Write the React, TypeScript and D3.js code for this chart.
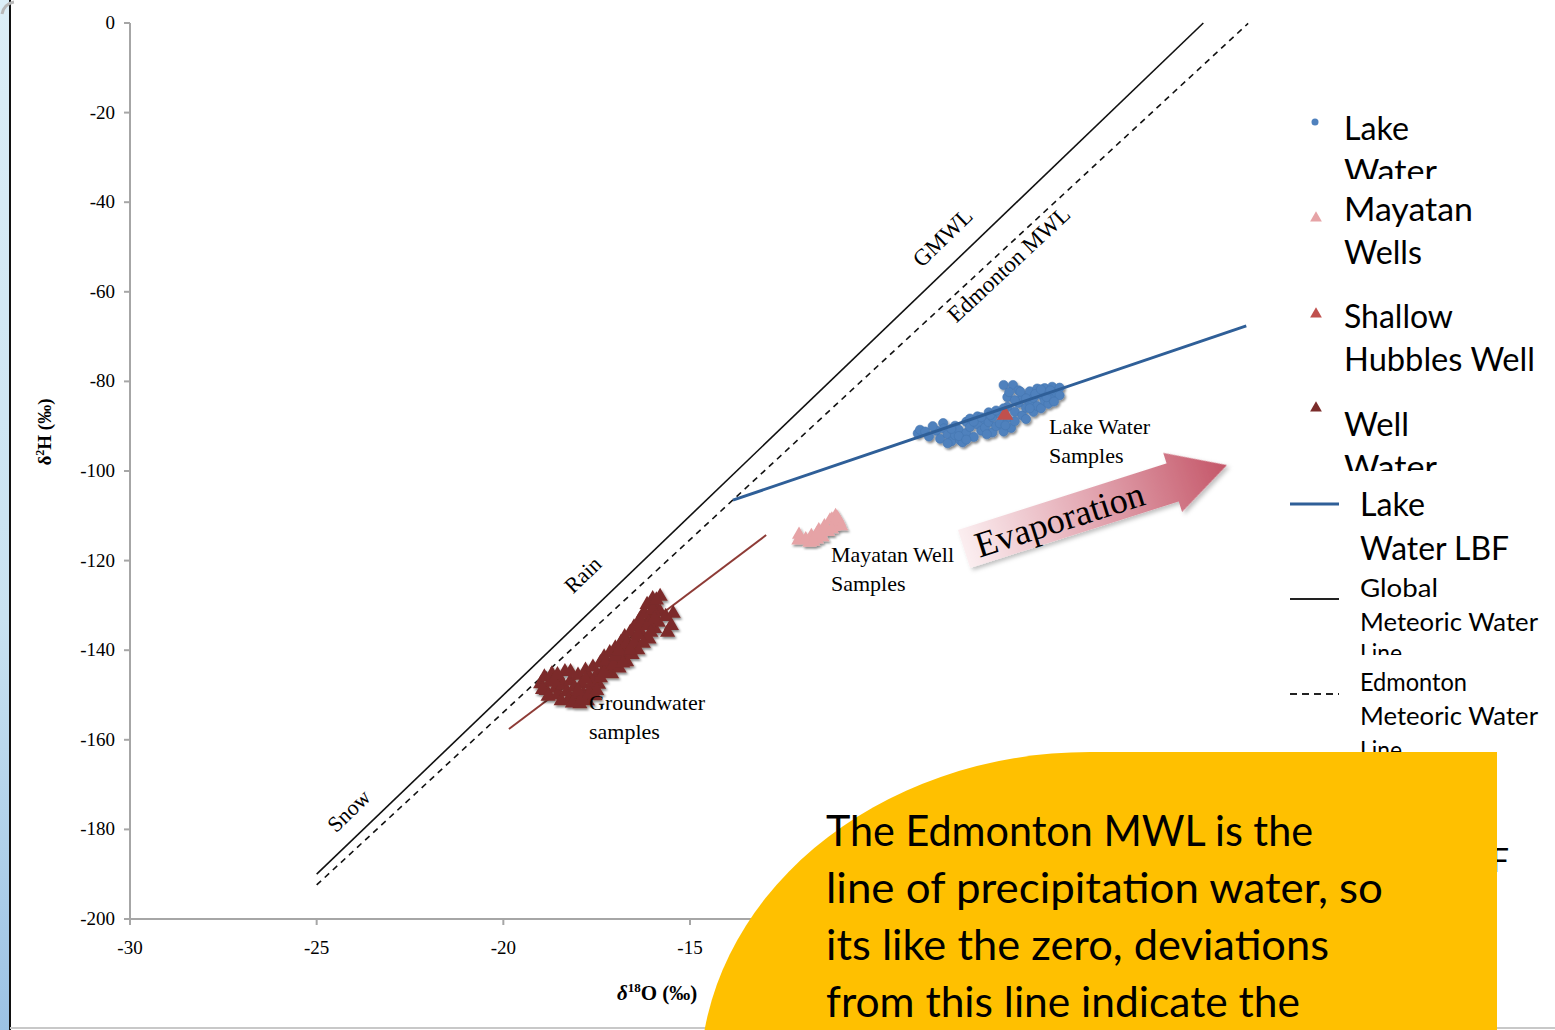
import React from "react";
import * as d3 from "d3";

// ---------- data ----------
const xTicks = [-30, -25, -20, -15, -10, -5, 0];
const xTickLabels = [-30, -25, -20, -15];
const yTicks = [0, -20, -40, -60, -80, -100, -120, -140, -160, -180, -200];

const lakeX = [-8.9, -8.84, -8.7, -8.6, -8.4, -8.3, -8.22, -8.2, -8.1, -8.0, -7.9, -7.9, -7.8, -7.77, -7.7, -7.6, -7.6, -7.5, -7.5, -7.4, -7.3, -7.3, -7.2, -7.1, -7.1, -7.0, -7.0, -6.9, -6.9, -6.8, -6.7, -6.7, -6.6, -6.6, -6.5, -6.5, -6.4, -6.35, -6.3, -6.3, -6.2, -6.2, -6.1, -6.1, -6.0, -6.0, -5.9, -5.9, -5.8, -5.8, -5.7, -5.7, -5.6, -5.6, -5.5, -5.5, -5.4, -5.4, -5.3, -5.3, -5.2, -5.1, -5.1,
  -8.5, -8.0, -7.8, -7.4, -7.2, -6.95, -6.8, -6.6, -6.5, -6.45, -6.3, -6.15, -6.0, -5.9, -5.75, -5.6, -5.45, -5.35, -5.25, -6.55, -7.05, -7.6, -8.1];
const lakeY = [-91.6, -90.8, -91.2, -92.3, -91.0, -92.8, -89.3, -90.5, -91.8, -93.4, -89.9, -92.0, -90.8, -93.1, -93.6, -89.0, -91.5, -88.3, -90.2, -92.4, -87.8, -89.6, -91.0, -88.6, -90.3, -86.9, -89.1, -91.4, -88.0, -90.0, -87.2, -89.4, -91.2, -80.8, -88.2, -85.7, -90.4, -80.8, -86.8, -88.9, -84.8, -82.0, -87.6, -83.3, -85.9, -88.4, -82.2, -84.6, -86.8, -83.7, -81.6, -85.5, -83.0, -86.0, -81.5, -84.3, -82.6, -85.0, -81.2, -83.8, -82.4, -81.4, -83.1,
  -90.0, -90.6, -92.2, -89.0, -88.0, -87.5, -86.5, -86.0, -83.5, -82.4, -84.2, -82.3, -83.8, -86.0, -82.8, -81.8, -83.5, -82.0, -84.5, -89.8, -91.8, -93.0, -93.8];

const mayX = [-12.1, -12.08, -11.8, -11.75, -11.6, -11.55, -11.45, -11.4, -11.3, -11.25, -11.15, -11.1, -11.0, -10.95, -11.9, -11.7, -11.5, -11.35, -11.2, -11.05, -11.2, -11.6];
const mayY = [-115.5, -114.2, -116.0, -114.5, -115.3, -113.2, -114.8, -112.3, -113.6, -111.0, -112.5, -110.0, -111.3, -112.3, -115.2, -115.8, -113.9, -112.8, -110.8, -110.5, -113.0, -114.0];

const hubX = [-6.56];
const hubY = [-87.5];

const gwX = [-19.0, -18.9, -18.85, -18.75, -18.7, -18.6, -18.55, -18.5, -18.4, -18.35, -18.3, -18.25, -18.2, -18.1, -18.05, -18.0, -17.95, -17.9, -17.85, -17.8, -17.75, -17.7, -17.65, -17.6, -17.55, -17.5, -17.45,
  -17.4, -17.35, -17.3, -17.2, -17.15, -17.1, -17.0, -16.95, -16.9, -16.85, -16.8, -16.75, -16.7, -16.65, -16.6, -16.55, -16.5, -16.45, -16.4, -16.35,
  -16.3, -16.25, -16.2, -16.15, -16.1, -16.05, -16.0, -15.95, -15.9, -15.85, -15.8, -15.8, -15.65, -15.5, -15.45, -15.6,
  -18.95, -18.8, -18.65, -18.45, -18.15, -17.9, -17.7, -17.6, -17.5, -17.4, -17.3, -17.25, -17.05, -17.0, -16.9, -16.8, -16.7, -16.6, -16.5, -16.4, -16.3, -16.25, -16.2, -16.1, -16.0, -15.95, -15.9, -16.05, -18.2, -18.55, -17.8, -18.0];
const gwY = [-147.5, -146.0, -149.0, -147.2, -145.3, -148.5, -150.0, -146.4, -147.8, -144.8, -149.3, -151.0, -146.9, -148.3, -150.5, -145.6, -152.0, -147.5, -149.8, -144.5, -151.3, -146.3, -148.6, -143.8, -150.2, -145.5, -147.6,
  -142.8, -144.9, -141.5, -143.7, -140.6, -145.3, -139.5, -142.0, -144.0, -138.3, -140.8, -137.0, -142.6, -139.2, -136.0, -141.0, -134.8, -137.8, -139.9, -133.2,
  -136.3, -131.8, -134.5, -129.8, -137.5, -132.6, -128.5, -135.2, -130.6, -133.8, -128.0, -131.5, -132.5, -134.5, -131.8, -136.0,
  -148.8, -150.3, -146.8, -151.3, -151.8, -151.0, -149.7, -147.2, -149.0, -146.2, -145.0, -142.5, -143.2, -141.3, -140.2, -142.9, -138.6, -140.0, -138.5, -136.5, -134.0, -138.5, -132.0, -134.0, -131.0, -133.0, -128.8, -136.0, -144.8, -145.5, -146.5, -149.0];

const gmwlX = [-25, -1.25];
const gmwlY = [-190, 0];
const emwlX = [-25, -0.05];
const emwlY = [-192.4, -0.1];
const lakeLbfX = [-13.85, -0.1];
const lakeLbfY = [-106.5, -67.6];
const gwLbfX = [-19.85, -12.96];
const gwLbfY = [-157.6, -114.3];

const calloutLines = [
  "The Edmonton MWL is the",
  "line of precipitation water, so",
  "its like the zero, deviations",
  "from this line indicate the",
];

// ---------- layout ----------
const W = 1555;
const H = 1030;
const x = d3.scaleLinear().domain([-30, 0]).range([130, 1250]);
const y = d3.scaleLinear().domain([-200, 0]).range([919, 23]);
const AX = "#a6a6a6";
const SERIF = "'Liberation Serif', 'Times New Roman', serif";
const SANS = "Lato, 'Noto Sans', sans-serif";

const zip = (xs: number[], ys: number[]) => xs.map((v, i) => [v, ys[i]] as [number, number]);
const lineGen = d3.line<[number, number]>().x((d) => x(d[0])).y((d) => y(d[1]));
const tri = (size: number) => d3.symbol().type(d3.symbolTriangle).size(size)() as string;

export default function App() {
  const legend1 = [
    { sym: "circle", color: "#4f81bd", my: 122, lines: ["Lake", "Water"], bl: [140, 183], widths: [65, 93], clip: 179, fs: 32 },
    { sym: "tri", color: "#e6a3a6", my: 218, lines: ["Mayatan", "Wells"], bl: [221, 264], widths: [129, 78], clip: 290, fs: 32 },
    { sym: "tri", color: "#c0504d", my: 314, lines: ["Shallow", "Hubbles Well"], bl: [328, 371], widths: [109, 191], clip: 390, fs: 32 },
    { sym: "tri", color: "#7b2c2a", my: 408, lines: ["Well", "Water"], bl: [436, 479], widths: [65, 93], clip: 471, fs: 32 },
  ];
  const legend2 = [
    { kind: "solid", color: "#2f5f98", sw: 3, ly: 504, lines: ["Lake", "Water LBF"], bl: [516, 560], widths: [65, 149], clip: 575, fs: 32 },
    { kind: "solid", color: "#222", sw: 2, ly: 599, lines: ["Global", "Meteoric Water", "Line"], bl: [597, 631, 662], widths: [78, 178, 42], clip: 655, fs: 25 },
    { kind: "dash", color: "#222", sw: 2, ly: 694, lines: ["Edmonton", "Meteoric Water", "Line"], bl: [691, 725, 759], widths: [107, 178, 42], clip: 800, fs: 25 },
    { kind: "solid", color: "#7b2c2a", sw: 2, ly: 820, lines: ["Well", "Water LBF"], bl: [829, 872], widths: [65, 149], clip: 900, fs: 32 },
  ];

  return (
    <svg width={W} height={H} style={{ position: "absolute", left: 0, top: 0, background: "#fff" }}>
      <defs>
        <linearGradient id="strip" x1="0" y1="0" x2="0" y2="1">
          <stop offset="0" stopColor="#dceef7" />
          <stop offset="0.6" stopColor="#c9e2f1" />
          <stop offset="1" stopColor="#9cc2e4" />
        </linearGradient>
        <linearGradient id="evap" x1="0" y1="0" x2="1" y2="0">
          <stop offset="0" stopColor="#fbeef0" />
          <stop offset="0.5" stopColor="#e2a5b0" />
          <stop offset="1" stopColor="#c45668" />
        </linearGradient>
        <filter id="shadow" x="-50%" y="-50%" width="200%" height="200%">
          <feDropShadow dx="1.5" dy="2" stdDeviation="1.2" floodColor="#000" floodOpacity="0.45" />
        </filter>
        <filter id="ashadow" x="-20%" y="-40%" width="140%" height="180%">
          <feDropShadow dx="2" dy="3" stdDeviation="2" floodColor="#000" floodOpacity="0.25" />
        </filter>
        {[...legend1, ...legend2].map((e, i) => (
          <clipPath id={`lc${i}`} key={i}>
            <rect x={1280} y={0} width={275} height={e.clip} />
          </clipPath>
        ))}
      </defs>

      {/* slide frame */}
      <rect x={0} y={0} width={9} height={H} fill="url(#strip)" />
      <line x1={10} y1={0} x2={10} y2={H} stroke="#111" strokeWidth={2} />
      <line x1={10} y1={1028} x2={W} y2={1028} stroke="#c8c8c8" strokeWidth={2} />
      <path d="M 2 14 A 14 14 0 0 1 14 2" fill="none" stroke="#b8b8b8" strokeWidth={3} />

      {/* axes */}
      <line x1={x(-30)} y1={y(0)} x2={x(-30)} y2={y(-200)} stroke={AX} strokeWidth={2} />
      <line x1={x(-30)} y1={y(-200)} x2={x(0)} y2={y(-200)} stroke={AX} strokeWidth={2} />
      {yTicks.map((t) => (
        <g key={`y${t}`}>
          <line x1={x(-30) - 6} x2={x(-30)} y1={y(t)} y2={y(t)} stroke={AX} strokeWidth={2} />
          <text x={x(-30) - 15} y={y(t) + 6} textAnchor="end" fontFamily={SERIF} fontSize={19} fill="#000">
            {t}
          </text>
        </g>
      ))}
      {xTicks.map((t) => (
        <line key={`xt${t}`} x1={x(t)} x2={x(t)} y1={y(-200)} y2={y(-200) + 6} stroke={AX} strokeWidth={2} />
      ))}
      {xTickLabels.map((t) => (
        <text key={`xl${t}`} x={x(t)} y={954} textAnchor="middle" fontFamily={SERIF} fontSize={19} fill="#000">
          {t}
        </text>
      ))}
      <text transform="translate(51,432) rotate(-90)" textAnchor="middle" fontFamily={SERIF} fontSize={19} fontWeight="bold">
        δ<tspan fontSize={12} dy={-7}>2</tspan>
        <tspan dy={7}>H (‰)</tspan>
      </text>
      <text x={617} y={1000} fontFamily={SERIF} fontSize={21} fontWeight="bold">
        <tspan fontStyle="italic">δ</tspan>
        <tspan fontSize={13} dy={-8}>18</tspan>
        <tspan dy={8}>O  (‰)</tspan>
      </text>

      {/* lines */}
      <path d={lineGen(zip(gmwlX, gmwlY)) || ""} stroke="#111" strokeWidth={1.6} fill="none" />
      <path d={lineGen(zip(emwlX, emwlY)) || ""} stroke="#111" strokeWidth={1.6} strokeDasharray="6 5" fill="none" />
      <path d={lineGen(zip(gwLbfX, gwLbfY)) || ""} stroke="#8e3b36" strokeWidth={2} fill="none" />

      {/* scatter */}
      <g filter="url(#shadow)">
        {zip(gwX, gwY).map((d, i) => (
          <path key={`g${i}`} d={tri(100)} transform={`translate(${x(d[0])},${y(d[1])})`} fill="#7b2c2a" />
        ))}
      </g>
      <g filter="url(#shadow)">
        {zip(mayX, mayY).map((d, i) => (
          <path key={`m${i}`} d={tri(85)} transform={`translate(${x(d[0])},${y(d[1])})`} fill="#e6a3a6" />
        ))}
      </g>
      <g filter="url(#shadow)">
        {zip(lakeX, lakeY).map((d, i) => (
          <circle key={`l${i}`} cx={x(d[0])} cy={y(d[1])} r={4.6} fill="#4f81bd" stroke="#4576b0" strokeWidth={0.6} />
        ))}
      </g>
      {zip(hubX, hubY).map((d, i) => (
        <path key={`h${i}`} d={tri(120)} transform={`translate(${x(d[0])},${y(d[1])})`} fill="#c0504d" />
      ))}
      <path d={lineGen(zip(lakeLbfX, lakeLbfY)) || ""} stroke="#2f5f98" strokeWidth={3} fill="none" />

      {/* annotations */}
      <text transform="translate(948,243) rotate(-44)" textAnchor="middle" fontFamily={SERIF} fontSize={23}>GMWL</text>
      <text transform="translate(1014,270) rotate(-43)" textAnchor="middle" fontFamily={SERIF} fontSize={23}>Edmonton MWL</text>
      <text transform="translate(588,580) rotate(-44)" textAnchor="middle" fontFamily={SERIF} fontSize={22}>Rain</text>
      <text transform="translate(354,816) rotate(-44)" textAnchor="middle" fontFamily={SERIF} fontSize={22}>Snow</text>
      <text fontFamily={SERIF} fontSize={22}>
        <tspan x={1049} y={434}>Lake Water</tspan>
        <tspan x={1049} y={463}>Samples</tspan>
        <tspan x={831} y={562}>Mayatan Well</tspan>
        <tspan x={831} y={591}>Samples</tspan>
        <tspan x={589} y={710}>Groundwater</tspan>
        <tspan x={589} y={739}>samples</tspan>
      </text>

      {/* evaporation arrow */}
      <g transform="translate(964,549) rotate(-17.7)">
        <path d="M0,-20 L219,-20 L219,-31 L276,0 L219,31 L219,20 L0,20 Z" fill="url(#evap)" filter="url(#ashadow)" />
        <text x={12} y={13} fontFamily={SERIF} fontSize={36} fill="#000">Evaporation</text>
      </g>

      {/* legend */}
      {legend1.map((e, i) => (
        <g key={`L1${i}`}>
          {e.sym === "circle" ? (
            <circle cx={1315} cy={e.my} r={3.5} fill={e.color} />
          ) : (
            <path d={tri(60)} transform={`translate(1316,${e.my})`} fill={e.color} />
          )}
          <g clipPath={`url(#lc${i})`}>
            {e.lines.map((t, j) => (
              <text key={j} x={1344} y={e.bl[j]} fontFamily={SANS} fontSize={e.fs} textLength={e.widths[j]} lengthAdjust="spacingAndGlyphs">
                {t}
              </text>
            ))}
          </g>
        </g>
      ))}
      {legend2.map((e, i) => (
        <g key={`L2${i}`}>
          <line x1={1290} x2={1339} y1={e.ly} y2={e.ly} stroke={e.color} strokeWidth={e.sw} strokeDasharray={e.kind === "dash" ? "7 5" : undefined} />
          <g clipPath={`url(#lc${i + legend1.length})`}>
            {e.lines.map((t, j) => (
              <text key={j} x={1360} y={e.bl[j]} fontFamily={SANS} fontSize={e.fs} textLength={e.widths[j]} lengthAdjust="spacingAndGlyphs">
                {t}
              </text>
            ))}
          </g>
        </g>
      ))}

      {/* callout */}
      <path d="M 1497 752 L 1090 752 A 390 328 0 0 0 700 1080 L 1497 1080 Z" fill="#ffc000" />
      {calloutLines.map((t, i) => (
        <text key={`c${i}`} x={826} y={846 + i * 57} fontFamily={SANS} fontSize={42} fill="#000"
          textLength={[487, 557, 503, 474][i]} lengthAdjust="spacingAndGlyphs">
          {t}
        </text>
      ))}
    </svg>
  );
}
